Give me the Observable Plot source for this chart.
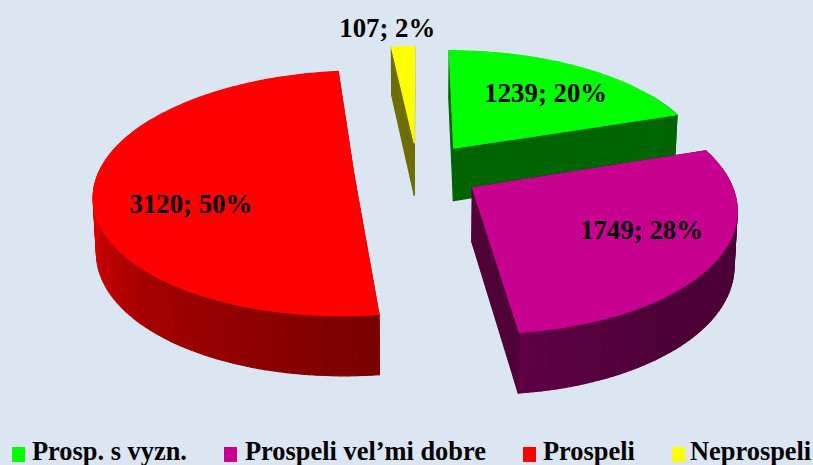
<!DOCTYPE html>
<html>
<head>
<meta charset="utf-8">
<script src="https://cdn.jsdelivr.net/npm/d3@7"></script>
<script src="https://cdn.jsdelivr.net/npm/@observablehq/plot@0.6"></script>
<style>
html,body{margin:0;padding:0;width:813px;height:465px;overflow:hidden;background:#dce6f2;}
#chart{position:absolute;left:0;top:0;}
#chart svg{display:block;background:#dce6f2;}
#legend{position:absolute;left:0;top:441px;width:813px;height:24px;
  font:bold 26.4px "Liberation Serif",serif;color:#000;}
#legend i{position:absolute;top:5.5px;width:13px;height:15px;}
#legend b{position:absolute;top:-1px;line-height:22px;white-space:nowrap;font-weight:bold;}
</style>
</head>
<body>
<div id="chart"></div>
<div id="legend"></div>
<script>
// --- data ---
const categories = ["Prosp. s vyzn.", "Prospeli vel’mi dobre", "Prospeli", "Neprospeli"];
const counts = [1239, 1749, 3120, 107];
const percents = [20, 28, 50, 2];
const topColors = ["#00ff00", "#c80090", "#ff0000", "#ffff00"];
const sideColors = ["#006400", "#4f0037", "#7a0000", "#6e6e00"];
const paintOrder = [0, 3, 2, 1];
const labelRadius = [0.67, 0.69, 0.65, 1.235];
const labelTurn = [2, -4, -15, -3];
const swatchX = [12, 224, 523, 672];
const legendTextX = [32, 245, 543, 690];

// --- 3D view of the exploded pie ---
const W = 813, H = 441;
const cx = 417, cy = 171, sx = 255, sy = 118.6;
const perspective = 0.15, explode = 0.25;
const floorDrop = 53.5 / sy, floorScaleY = 124 / sy, floorScaleX = 0.99;
const shade = d3.scaleLinear([60, 100, 140, 173, 225, 270, 300], [0.4, 0.39, 0.38, 0.47, 0.65, 0.88, 0.9]);

const rad = d => d * Math.PI / 180;
const total = d3.sum(counts);
const stops = d3.cumsum(counts).map(v => v / total * 360);
const slices = categories.map((c, i) => {
  const a0 = i ? stops[i - 1] : 0, a1 = stops[i], mid = (a0 + a1) / 2;
  return {i, a0, a1, mid, ox: explode * Math.sin(rad(mid)), oy: explode * Math.cos(rad(mid))};
});
function view(X, Y, floor) {
  const w = 1 + perspective * Y;
  return floor
    ? {x: floorScaleX * X / w, y: floorScaleY * Y / w - floorDrop}
    : {x: X / w, y: Y / w};
}
const onRim = (s, a, r = 1) => [s.ox + r * Math.sin(rad(a)), s.oy + r * Math.cos(rad(a))];
const angles = (s, step) => {
  const n = Math.max(2, Math.ceil((s.a1 - s.a0) / step));
  return d3.range(n + 1).map(k => s.a0 + (s.a1 - s.a0) * k / n);
};

const order = [];
function addPoly(list, id, color, pts) {
  pts.forEach(p => list.push({id, color, x: p.x, y: p.y}));
}
for (const i of paintOrder) {
  const s = slices[i];
  // radial walls
  for (const a of [s.a0, s.a1]) {
    const r = onRim(s, a);
    addPoly(order, `w${i}-${a}`, sideColors[i], [
      view(s.ox, s.oy), view(r[0], r[1]), view(r[0], r[1], true), view(s.ox, s.oy, true)
    ]);
  }
  // outer wall
  const bands = angles(s, 1.5);
  for (let k = 0; k < bands.length - 1; k++) {
    const a = bands[k], b = bands[k + 1], m = (a + b) / 2;
    if (Math.cos(rad(m)) > 0.5) continue;
    const c = d3.rgb(topColors[i]), f = shade(m);
    const col = d3.rgb(c.r * f, c.g * f, c.b * f).formatHex();
    const p = onRim(s, a), q = onRim(s, b);
    addPoly(order, `o${i}-${k}`, col, [
      view(p[0], p[1]), view(q[0], q[1]), view(q[0], q[1], true), view(p[0], p[1], true)
    ]);
  }
  // top face
  addPoly(order, `t${i}`, topColors[i], [view(s.ox, s.oy), ...angles(s, 1).map(a => {
    const r = onRim(s, a);
    return view(r[0], r[1]);
  })]);
}

const labels = slices.map(s => {
  const r = onRim(s, s.mid + labelTurn[s.i], labelRadius[s.i]);
  const p = view(r[0], r[1]);
  return {x: p.x, y: p.y, text: `${counts[s.i]}; ${percents[s.i]}%`};
});

const plot = Plot.plot({
  width: W, height: H,
  margin: 0,
  style: {background: "#dce6f2"},
  x: {domain: [-cx / sx, (W - cx) / sx], range: [0, W], axis: null},
  y: {domain: [-(H - cy) / sy, cy / sy], range: [H, 0], axis: null},
  marks: [
    Plot.line(order, {
      x: "x", y: "y", z: "id",
      fill: "color", stroke: "color", strokeWidth: 1.2,
      curve: "linear-closed"
    }),
    Plot.text(labels, {
      x: "x", y: "y", text: "text",
      fontFamily: "Liberation Serif", fontWeight: "bold", fontSize: 26.8, fill: "#000"
    })
  ]
});
document.getElementById("chart").appendChild(plot);

const legend = document.getElementById("legend");
categories.forEach((c, i) => {
  const sw = document.createElement("i");
  sw.style.left = swatchX[i] + "px";
  sw.style.background = topColors[i];
  legend.appendChild(sw);
  const t = document.createElement("b");
  t.style.left = legendTextX[i] + "px";
  t.textContent = c;
  legend.appendChild(t);
});
</script>
</body>
</html>
